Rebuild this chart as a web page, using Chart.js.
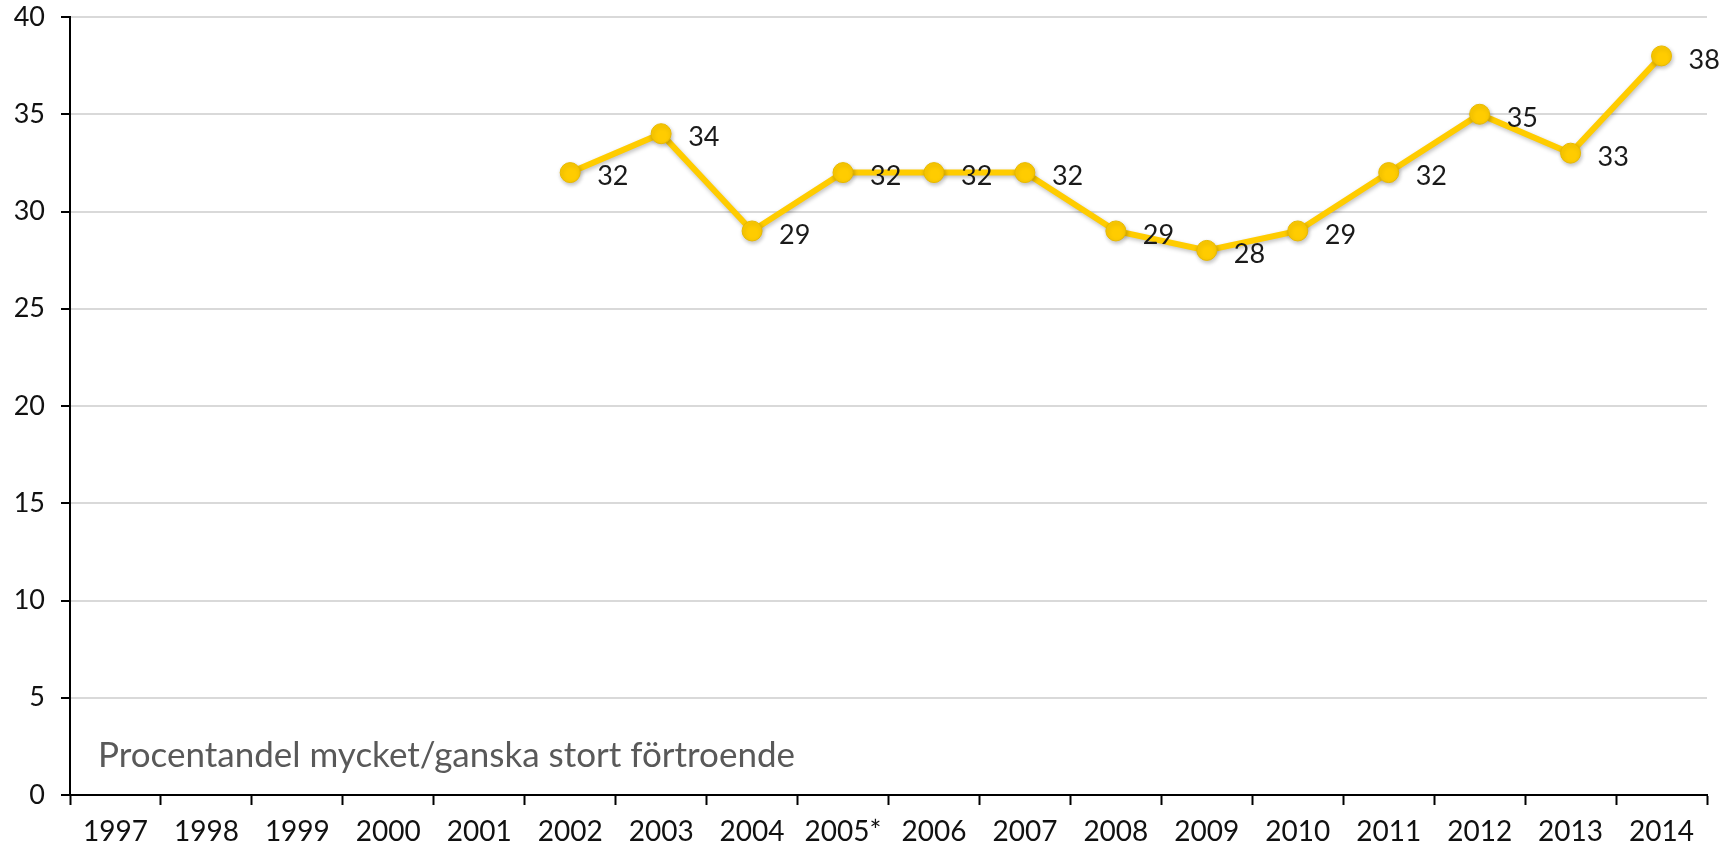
<!DOCTYPE html>
<html>
<head>
<meta charset="utf-8">
<script src="https://cdn.jsdelivr.net/npm/chart.js@4"></script>
<style>
  html, body { margin: 0; padding: 0; background: #fff; }
  #wrap { width: 1721px; height: 853px; }
</style>
</head>
<body>
<div id="wrap"><canvas id="chartTrust" width="1721" height="853"></canvas></div>
<script>
const years = ['1997', '1998', '1999', '2000', '2001', '2002', '2003', '2004', '2005*', '2006', '2007', '2008', '2009', '2010', '2011', '2012', '2013', '2014'];
const trust = [null, null, null, null, null, 32, 34, 29, 32, 32, 32, 29, 28, 29, 32, 35, 33, 38];
const yTicks = [0, 5, 10, 15, 20, 25, 30, 35, 40];
const caption = 'Procentandel mycket/ganska stort förtroende';

const FONT = 'Lato, "Open Sans", sans-serif';

// value labels to the right of each point + caption in the lower left
const labelPlugin = {
  id: 'labels',
  afterDatasetsDraw(chart) {
    const ctx = chart.ctx;
    const meta = chart.getDatasetMeta(0);
    ctx.save();
    ctx.font = '27px ' + FONT;
    ctx.fillStyle = '#1a1a1a';
    ctx.textAlign = 'left';
    ctx.textBaseline = 'middle';
    meta.data.forEach((pt, i) => {
      if (trust[i] == null) return;
      ctx.fillText(String(trust[i]), pt.x + 27, pt.y + 4);
    });
    const area = chart.chartArea;
    ctx.font = '35px ' + FONT;
    ctx.fillStyle = '#595959';
    ctx.textBaseline = 'alphabetic';
    ctx.fillText(caption, area.left + 28, area.bottom - 28);
    ctx.restore();
  }
};

const shadowPlugin = {
  id: 'shadow',
  beforeDatasetDraw(chart) {
    const ctx = chart.ctx;
    ctx.save();
    ctx.shadowColor = 'rgba(0,0,0,0.25)';
    ctx.shadowBlur = 4;
    ctx.shadowOffsetX = 1;
    ctx.shadowOffsetY = 2;
  },
  afterDatasetDraw(chart) {
    chart.ctx.restore();
  }
};

const ctx = document.getElementById('chartTrust').getContext('2d');
new Chart(ctx, {
  type: 'line',
  data: {
    labels: years,
    datasets: [{
      data: trust,
      borderColor: '#FFCC00',
      borderWidth: 6,
      pointRadius: 10,
      pointHoverRadius: 10,
      pointBackgroundColor: '#FFCC00',
      pointBorderColor: '#E8B900',
      pointBorderWidth: 1,
      tension: 0,
      spanGaps: false
    }]
  },
  plugins: [shadowPlugin, labelPlugin],
  options: {
    responsive: false,
    animation: false,
    layout: { padding: { top: 17, right: 14, left: 0, bottom: 0 } },
    plugins: { legend: { display: false }, tooltip: { enabled: false } },
    scales: {
      x: {
        offset: true,
        grid: {
          offset: true,
          drawOnChartArea: false,
          drawTicks: true,
          tickLength: 10,
          tickColor: '#000',
          tickWidth: 2
        },
        border: { color: '#000', width: 2 },
        ticks: { color: '#111', font: { family: FONT, size: 28 }, padding: 10, maxRotation: 0, autoSkip: false },
        afterFit(scale) { scale.height = 58; scale.paddingLeft = 0; scale.paddingRight = 0; }
      },
      y: {
        min: 0,
        max: 40,
        afterBuildTicks(scale) { scale.ticks = yTicks.map(v => ({ value: v })); },
        grid: {
          color: '#d9d9d9',
          lineWidth: 2,
          tickLength: 9,
          tickColor: '#000',
          tickWidth: 2
        },
        border: { color: '#000', width: 2 },
        ticks: { color: '#111', font: { family: FONT, size: 27 }, padding: 16 },
        afterFit(scale) { scale.width = 70; scale.paddingTop = 0; scale.paddingBottom = 0; }
      }
    }
  }
});
</script>
</body>
</html>
